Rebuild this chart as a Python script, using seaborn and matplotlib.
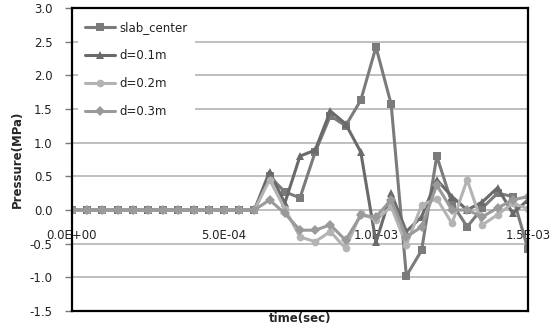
import numpy as np
import pandas as pd
import matplotlib
matplotlib.use("Agg")
import matplotlib.pyplot as plt
from matplotlib.ticker import FuncFormatter
import seaborn as sns

# time axis: 31 samples, 5e-5 s apart
time_s = np.arange(31) * 5e-5

zeros = [0.0] * 13
slab_center = zeros + [0.50, 0.27, 0.18, 0.86, 1.40, 1.25, 1.63, 2.42, 1.57, -0.98,
                       -0.60, 0.80, 0.10, -0.25, 0.03, 0.25, 0.20, -0.58]
d_01 = zeros + [0.57, 0.10, 0.80, 0.89, 1.47, 1.28, 0.86, -0.48, 0.25, -0.32,
                -0.10, 0.45, 0.20, 0.00, 0.12, 0.33, -0.05, 0.15]
d_02 = zeros + [0.45, 0.02, -0.40, -0.47, -0.32, -0.57, -0.05, -0.15, 0.05, -0.52,
                0.07, 0.17, -0.20, 0.45, -0.22, -0.07, 0.10, 0.02]
d_03 = zeros + [0.15, -0.05, -0.30, -0.30, -0.22, -0.45, -0.08, -0.10, 0.15, -0.40,
                -0.25, 0.37, 0.00, 0.00, -0.10, 0.03, 0.15, 0.20]

series_names = ["slab_center", "d=0.1m", "d=0.2m", "d=0.3m"]
series_values = [slab_center, d_01, d_02, d_03]

y_ticks = [-1.5, -1.0, -0.5, 0.0, 0.5, 1.0, 1.5, 2.0, 2.5, 3.0]
x_ticks = [0.0, 5e-4, 1e-3, 1.5e-3]

df = pd.concat(
    [pd.DataFrame({"time": time_s, "pressure": vals, "series": name})
     for name, vals in zip(series_names, series_values)],
    ignore_index=True,
)

sns.set_style("white")
plt.rcParams["font.family"] = ["DejaVu Sans"]
plt.rcParams["axes.unicode_minus"] = False

palette = {"slab_center": "#7b7b7b", "d=0.1m": "#6a6a6a",
           "d=0.2m": "#b3b3b3", "d=0.3m": "#9a9a9a"}
markers = {"slab_center": "s", "d=0.1m": "^", "d=0.2m": "o", "d=0.3m": "D"}

fig = plt.figure(figsize=(5.55, 3.29), dpi=100)
ax = fig.add_axes([0.1297, 0.0547, 0.8216, 0.921])

sns.lineplot(data=df, x="time", y="pressure", hue="series", style="series",
             palette=palette, markers=markers, dashes=False, linewidth=2.2,
             markersize=5.5, markeredgewidth=0, ax=ax, sort=False)

ax.set_xlim(0, 1.5e-3)
ax.set_ylim(-1.5, 3.0)
ax.set_yticks(y_ticks)
ax.yaxis.set_major_formatter(FuncFormatter(lambda v, p: f"{v:.1f}"))
ax.yaxis.grid(True, color="#b4b4b4", linewidth=1.2)
ax.xaxis.grid(False)
ax.set_axisbelow(True)
ax.tick_params(axis="y", which="major", left=True, length=5, width=1.0,
               color="#7a7a7a", pad=9, labelsize=8.5, labelcolor="#222222")

# main x axis carries no labels; they sit under the zero line instead
ax.set_xticks(x_ticks)
ax.tick_params(axis="x", bottom=False, labelbottom=False)
sec = ax.secondary_xaxis(1.5 / 4.5)
sec.set_xticks(x_ticks)
sec.xaxis.set_major_formatter(FuncFormatter(lambda v, p: f"{v:.1E}"))
sec.tick_params(axis="x", length=0, pad=14, labelsize=8.5, labelcolor="#222222")
sec.spines["bottom"].set_visible(False)

for side in ["left", "right", "top", "bottom"]:
    ax.spines[side].set_visible(True)
    ax.spines[side].set_color("black")
    ax.spines[side].set_linewidth(1.6)

ax.set_xlabel("time(sec)", fontsize=8.5, fontweight="bold", labelpad=1)
ax.set_ylabel("Pressure(MPa)", fontsize=8.5, fontweight="bold", labelpad=4)

leg = ax.legend(loc="upper left", bbox_to_anchor=(0.0, 1.0), frameon=True,
                facecolor="white", edgecolor="white", framealpha=1.0,
                fontsize=8.5, labelspacing=1.28, handlelength=2.55,
                handletextpad=0.35, borderpad=0.6, borderaxespad=0.5,
                fancybox=False)
leg.get_frame().set_linewidth(0)
for txt in leg.get_texts():
    txt.set_color("#222222")

fig.savefig("out.png", dpi=100)
